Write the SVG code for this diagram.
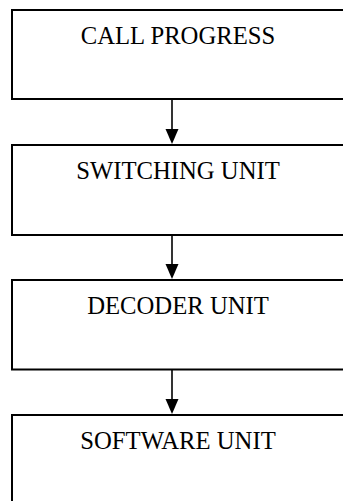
<svg xmlns="http://www.w3.org/2000/svg" width="343" height="501" viewBox="0 0 343 501">
<style>
.box{fill:#fff;stroke:#000;stroke-width:2}
.lbl{font-family:"Liberation Serif","Times New Roman",serif;font-size:24.7px;fill:#000;text-anchor:middle}
.conn{stroke:#000;stroke-width:1.6;fill:none}
.head{fill:#000}
</style>
<rect width="343" height="501" fill="#fff"/>
<g id="n1"><rect class="box" x="12" y="10" width="340" height="89"/><text class="lbl" x="178" y="43.5">CALL PROGRESS</text></g>
<g id="n2"><rect class="box" x="12" y="145" width="340" height="90"/><text class="lbl" x="178" y="179">SWITCHING UNIT</text></g>
<g id="n3"><rect class="box" x="12" y="280" width="340" height="89.5"/><text class="lbl" x="178" y="314">DECODER UNIT</text></g>
<g id="n4"><rect class="box" x="12" y="415" width="340" height="100"/><text class="lbl" x="178" y="449">SOFTWARE UNIT</text></g>
<g id="connectors">
<line class="conn" x1="172" y1="99" x2="172" y2="130"/>
<path class="head" d="M165.5,129 L178.5,129 L172,144 Z"/>
<line class="conn" x1="172" y1="235" x2="172" y2="265"/>
<path class="head" d="M165.5,264 L178.5,264 L172,279 Z"/>
<line class="conn" x1="172" y1="370" x2="172" y2="400"/>
<path class="head" d="M165.5,399 L178.5,399 L172,414 Z"/>
</g>
</svg>
